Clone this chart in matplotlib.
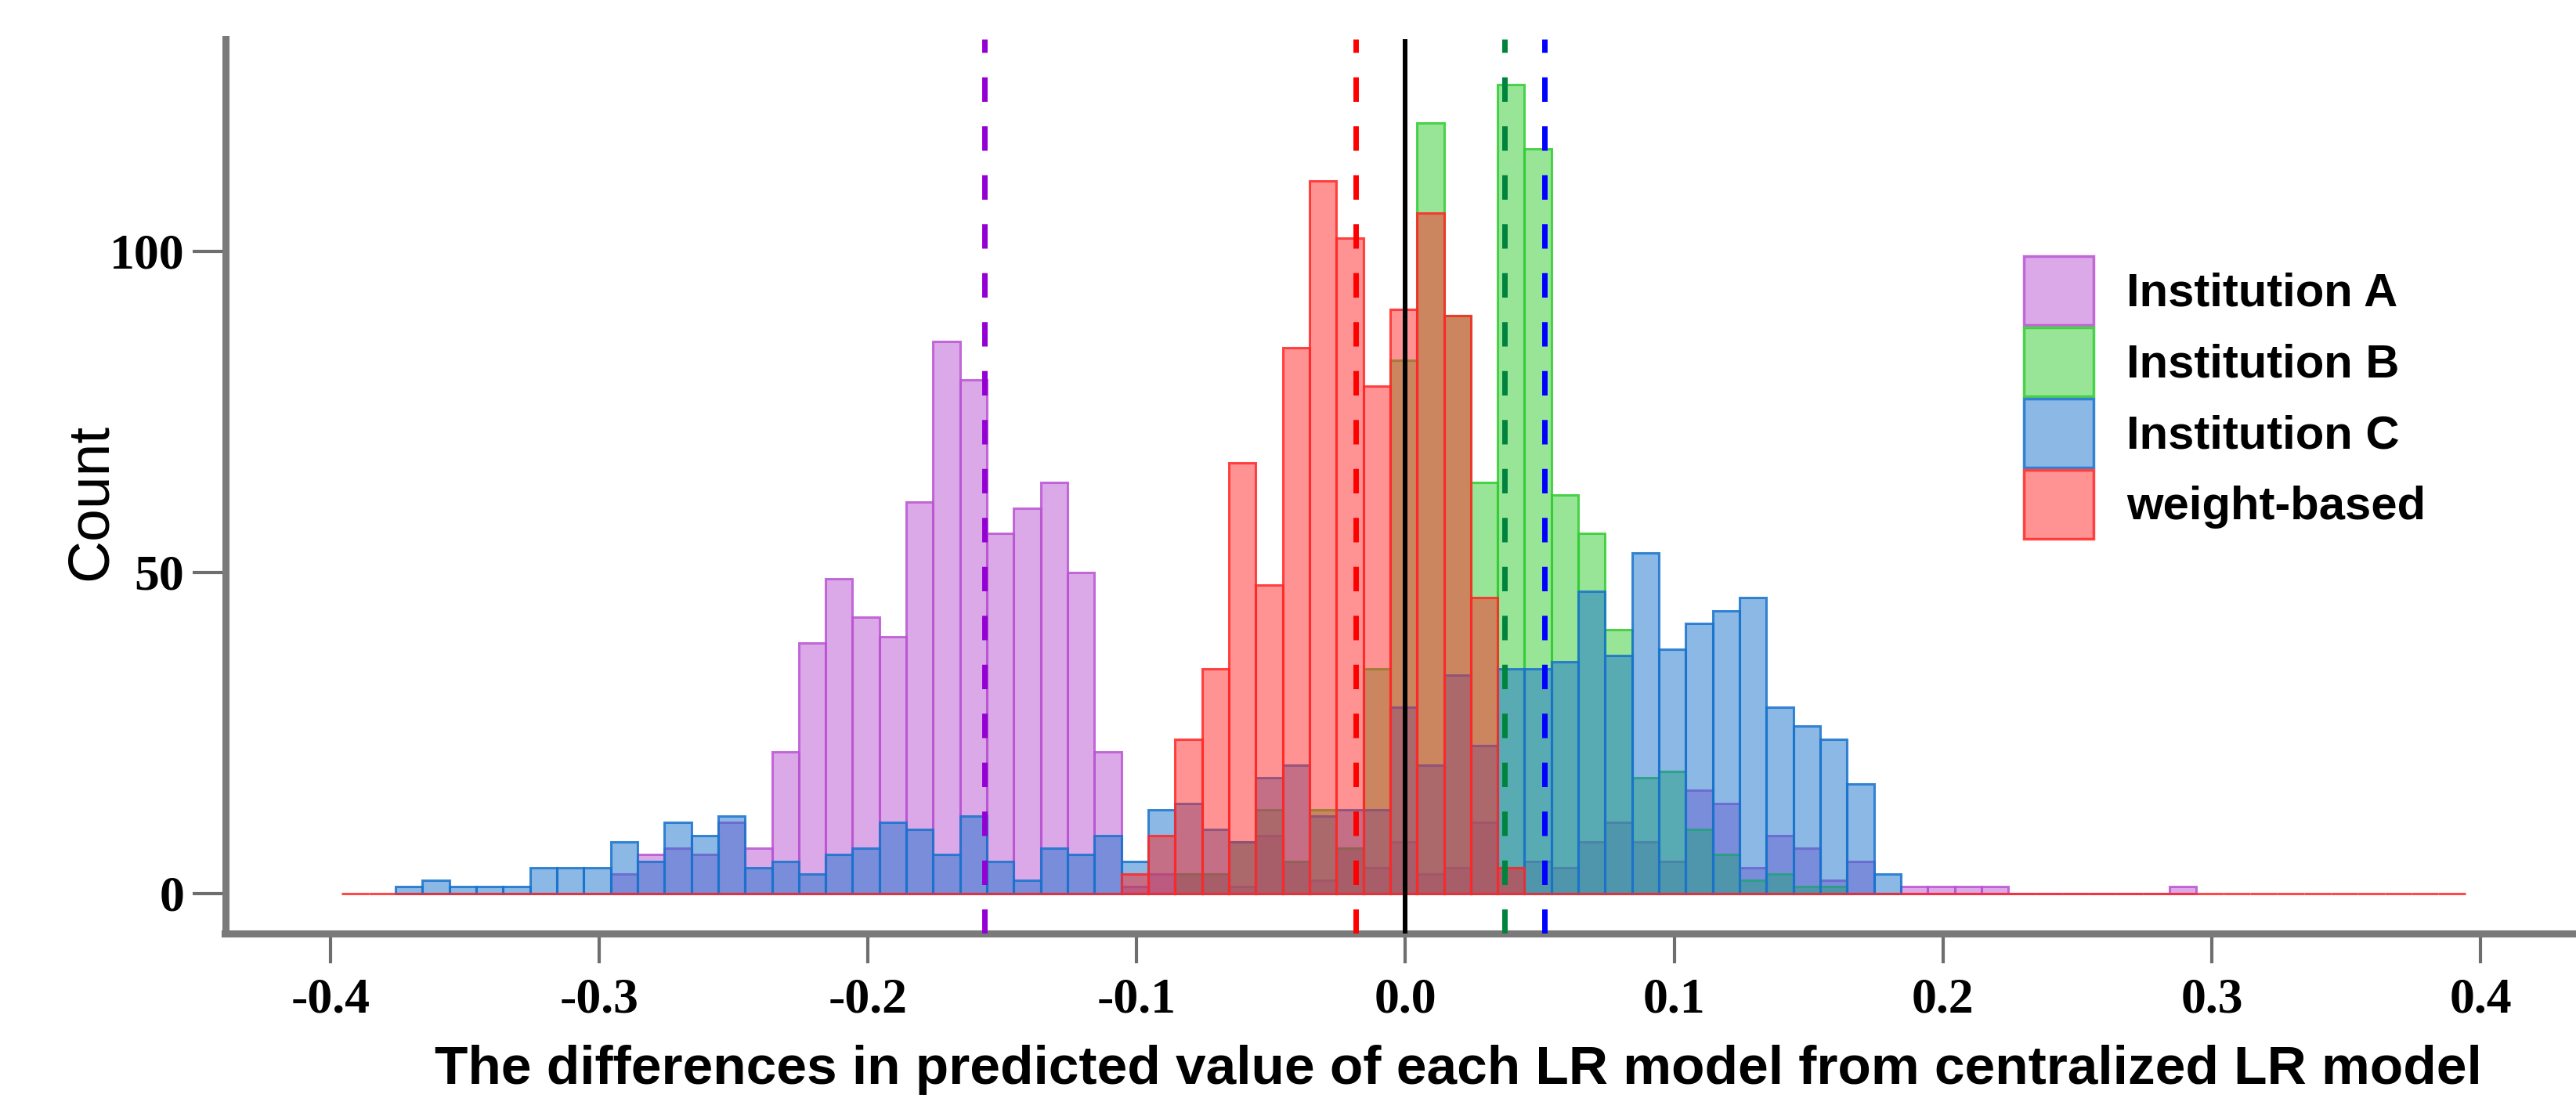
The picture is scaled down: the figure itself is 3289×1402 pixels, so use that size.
import matplotlib
matplotlib.use("Agg")
import matplotlib.pyplot as plt
import matplotlib.patches as mpatches
import numpy as np

# ---------------- data ----------------
bin_origin = -0.3957      # left edge of bin index 0
bin_width = 0.01

series_names = ["Institution A", "Institution B", "Institution C", "weight-based"]

# first bin index of each series and the counts per bin
start_A = 10
counts_A = [3, 6, 7, 6, 11, 7, 22, 39, 49, 43, 40, 61, 86, 80, 56, 60, 64, 50, 22,
            1, 3, 3, 3, 1, 9, 5, 2, 7, 4, 8, 3, 4, 11, 4, 5, 4, 8, 11, 8, 5,
            16, 14, 4, 9, 7, 2, 5, 0, 1, 1, 1, 1, 0, 0, 0, 0, 0, 0, 1]

start_B = 31
counts_B = [3, 3, 8, 13, 5, 13, 7, 35, 83, 120, 90, 64, 126, 116, 62, 56, 41,
            18, 19, 10, 6, 2, 3, 1, 1]

start_C = 2
counts_C = [1, 2, 1, 1, 1, 4, 4, 4, 8, 5, 11, 9, 12, 4, 5, 3, 6, 7, 11, 10, 6, 12,
            5, 2, 7, 6, 9, 5, 13, 14, 10, 8, 18, 20, 12, 13, 13, 29, 20, 34, 23,
            35, 35, 36, 47, 37, 53, 38, 42, 44, 46, 29, 26, 24, 17, 3]

start_W = 0
counts_W = [0] * 29 + [3, 9, 24, 35, 67, 48, 85, 111, 102, 79, 91, 106, 90, 46, 4] + [0] * 35

# mean lines
mean_A = -0.1565
mean_B = 0.0368
mean_C = 0.0518
mean_W = -0.0185
ref_line = 0.0

xticks = [-0.4, -0.3, -0.2, -0.1, 0.0, 0.1, 0.2, 0.3, 0.4]
xtick_labels = ["-0.4", "-0.3", "-0.2", "-0.1", "0.0", "0.1", "0.2", "0.3", "0.4"]
yticks = [0, 50, 100]
ytick_labels = ["0", "50", "100"]

xlabel = "The differences in predicted value of each LR model from centralized LR model"
ylabel = "Count"

# ---------------- style ----------------
base_cols = {
    "A": (186 / 255, 85 / 255, 211 / 255),
    "B": (50 / 255, 205 / 255, 50 / 255),
    "C": (25 / 255, 115 / 255, 205 / 255),
    "W": (255 / 255, 40 / 255, 40 / 255),
}
line_cols = {"A": "#9400D3", "B": "#00843D", "C": "#0000FF", "W": "#FF0000"}

W_PX, H_PX = 3289, 1402
fig = plt.figure(figsize=(W_PX / 100, H_PX / 100), dpi=100)
left_px, bottom_px, top_px = 287.5, 1191.5, 49.5
ax = fig.add_axes([left_px / W_PX, 1 - bottom_px / H_PX,
                   1 - left_px / W_PX, (bottom_px - top_px) / H_PX])


def draw(start, counts, key):
    c = base_cols[key]
    lefts = bin_origin + bin_width * (start + np.arange(len(counts)))
    ax.bar(lefts, counts, width=bin_width, align="edge",
           facecolor=(*c, 0.5), edgecolor=(*c, 0.85), linewidth=2.2, zorder=2)


draw(start_A, counts_A, "A")
draw(start_B, counts_B, "B")
draw(start_C, counts_C, "C")
draw(start_W, counts_W, "W")

dash = (0, (4.5, 4.5))
for m, k in [(mean_A, "A"), (mean_W, "W"), (mean_B, "B"), (mean_C, "C")]:
    ax.axvline(m, color=line_cols[k], lw=5, linestyle=dash, zorder=4)
ax.axvline(ref_line, color="black", lw=4.3, zorder=5)

ax.set_xlim(-0.4391, 0.4355)
ax.set_ylim(-6.22, 133.1)

for s in ["top", "right"]:
    ax.spines[s].set_visible(False)
for s in ["left", "bottom"]:
    ax.spines[s].set_color("#7a7a7a")
    ax.spines[s].set_linewidth(6.5)

ax.set_xticks(xticks)
ax.set_xticklabels(xtick_labels)
ax.set_yticks(yticks)
ax.set_yticklabels(ytick_labels)
for lab in ax.get_xticklabels() + ax.get_yticklabels():
    lab.set_fontfamily("Liberation Serif")
    lab.set_fontweight("bold")
    lab.set_fontsize(46)
ax.tick_params(axis="x", direction="out", length=27.7, width=3, color="#6e6e6e", pad=13)
ax.tick_params(axis="y", direction="out", length=30.6, width=3, color="#6e6e6e", pad=7)

ax.set_xlabel(xlabel, fontfamily="Liberation Sans", fontweight="bold", fontsize=50)
ax.xaxis.set_label_coords((1861.5 - left_px) / (W_PX - left_px),
                          (bottom_px - 1334) / (bottom_px - top_px))
ax.set_ylabel(ylabel, fontfamily="Liberation Sans", fontweight="normal", fontsize=54)
ax.yaxis.set_label_coords((151 - left_px) / (W_PX - left_px),
                          (bottom_px - 641) / (bottom_px - top_px))

handles = [mpatches.Patch(facecolor=(*base_cols[k], 0.5), edgecolor=(*base_cols[k], 0.85),
                          linewidth=2.5) for k in ["A", "B", "C", "W"]]
fs_leg = 43
fs_px = fs_leg * 100 / 72
box_h = 88 / fs_px
hh = (box_h - 0.245) / 0.65   # matplotlib subtracts a descent from handleheight
leg = fig.legend(handles, series_names, loc="upper left",
                 bbox_to_anchor=(2584 / W_PX, 1 - 327 / H_PX),
                 bbox_transform=fig.transFigure, frameon=False, borderpad=0,
                 borderaxespad=0, handlelength=89 / fs_px, handleheight=hh,
                 handletextpad=42 / fs_px, labelspacing=3 / fs_px,
                 prop=dict(family="Liberation Sans", weight="bold", size=fs_leg))

fig.savefig("out.png", dpi=100)
